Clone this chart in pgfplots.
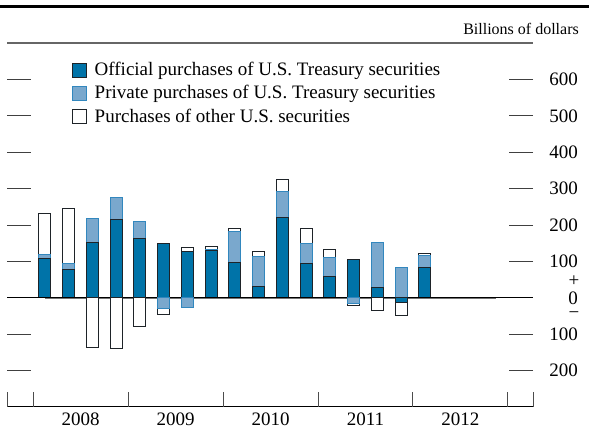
\documentclass[border=0pt]{standalone}
\usepackage{fontspec}
\setmainfont{Liberation Serif}
\usepackage{pgfplots}
\pgfplotsset{compat=1.18}
\definecolor{offblue}{RGB}{0,115,168}
\definecolor{privblue}{RGB}{122,168,205}
\definecolor{privedge}{RGB}{50,135,190}
\definecolor{darkedge}{RGB}{30,35,40}
\pgfplotsset{
  common/.style={
    scale only axis, width=526bp, height=364bp,
    at={(7bp,25bp)}, anchor=south west,
    xmin=-1.595, xmax=20.553, ymin=-300, ymax=700,
    ybar stacked, bar width=12bp,
    axis line style={draw=none},
  }
}
\begin{document}
\begin{tikzpicture}
\fontsize{19bp}{23bp}\selectfont
\path[use as bounding box] (0,0) rectangle (589bp,432bp);
\draw[line width=3bp] (0,425bp) -- (589bp,425bp);
\node[anchor=base east, font=\fontsize{16bp}{19bp}\selectfont, inner sep=0pt] at (579bp,397bp) {Billions of dollars};
\draw[black!60, line width=1.5bp] (7bp,389bp) -- (533bp,389bp);
\draw[black, line width=1bp] (7bp,25bp) -- (533bp,25bp);
\begin{axis}[common, clip=false,
  ytick={-200,-100,100,200,300,400,500,600},
  yticklabels={200,100,100,200,300,400,500,600},
  extra y ticks={0}, extra y tick labels={0},
  extra y tick style={major tick length=0pt},
  ytick pos=both, yticklabel pos=right,
  tick align=inside, major tick length=24bp,
  ytick style={black!75, line width=1bp},
  yticklabel style={anchor=east, inner sep=0pt, xshift=45bp},
  xtick={1.5,5.5,9.5,13.5,17.5}, xticklabels={2008,2009,2010,2011,2012},
  xtick style={draw=none},
  xticklabel style={anchor=base, inner sep=0pt, yshift=-19bp},
  /pgf/number format/assume math mode=true,
  legend cell align=left,
  legend style={at={(rel axis cs:0.1236,0.9533)}, anchor=north west,
    draw=none, fill=none, inner sep=0pt, row sep=3bp,
    font=\fontsize{19bp}{23bp}\selectfont},
  legend image code/.code={\draw[#1, line width=1bp] (0bp,-7bp) rectangle (14bp,7bp);
    \path[draw=none, fill=none] (0bp,0bp) rectangle (20bp,1bp);},
]
\draw[black, line width=0.8bp] (axis cs:-1.595,0) -- (axis cs:20.553,0);
\draw[black!55, line width=2bp] (axis cs:0,0) -- (axis cs:19,0);
\draw[black!70, line width=1bp] (axis cs:-1.595,-300) -- ++(0pt,15bp);
\draw[black!70, line width=1bp] (axis cs:-0.5,-300) -- ++(0pt,15bp);
\draw[black!70, line width=1bp] (axis cs:3.5,-300) -- ++(0pt,15bp);
\draw[black!70, line width=1bp] (axis cs:7.5,-300) -- ++(0pt,15bp);
\draw[black!70, line width=1bp] (axis cs:11.5,-300) -- ++(0pt,15bp);
\draw[black!70, line width=1bp] (axis cs:15.5,-300) -- ++(0pt,15bp);
\draw[black!70, line width=1bp] (axis cs:19.5,-300) -- ++(0pt,15bp);
\draw[black!70, line width=1bp] (axis cs:20.553,-300) -- ++(0pt,15bp);
\node[inner sep=0pt] at (axis cs:20.553,47) [xshift=41bp] {+};
\node[inner sep=0pt] at (axis cs:20.553,-47) [xshift=41bp] {−};
% positive parts
\addplot[fill=offblue, draw=darkedge, line width=1bp] coordinates {
(0,107) (1,77) (2,152) (3,214) (4,164) (5,149) (6,126) (7,130) (8,97)
(9,30) (10,220) (11,93) (12,58) (13,105) (14,29) (15,0) (16,83)};
\addplot[fill=privblue, draw=privedge, line width=1bp] coordinates {
(0,13) (1,18) (2,67) (3,62) (4,46) (5,0) (6,0) (7,2) (8,84)
(9,84) (10,73) (11,57) (12,54) (13,0) (14,122) (15,83) (16,34)};
\addplot[fill=white, draw=darkedge, line width=1bp] coordinates {
(0,111) (1,150) (2,0) (3,0) (4,0) (5,0) (6,11) (7,8) (8,9)
(9,14) (10,31) (11,41) (12,21) (13,0) (14,0) (15,0) (16,5)};
\legend{Official purchases of U.S. Treasury securities,
Private purchases of U.S. Treasury securities,
Purchases of other U.S. securities}
\end{axis}
\begin{axis}[common, hide axis]
% negative parts
\addplot[fill=offblue, draw=darkedge, line width=1bp] coordinates {
(0,0) (1,0) (2,0) (3,0) (4,0) (5,0) (6,0) (7,0) (8,0)
(9,0) (10,0) (11,0) (12,0) (13,0) (14,0) (15,-14) (16,0)};
\addplot[fill=privblue, draw=privedge, line width=1bp] coordinates {
(0,0) (1,0) (2,0) (3,0) (4,0) (5,-29) (6,-26) (7,0) (8,0)
(9,0) (10,0) (11,0) (12,0) (13,-16) (14,0) (15,0) (16,0)};
\addplot[fill=white, draw=darkedge, line width=1bp] coordinates {
(0,0) (1,0) (2,-137) (3,-139) (4,-78) (5,-16) (6,0) (7,0) (8,0)
(9,0) (10,0) (11,0) (12,0) (13,-6) (14,-34) (15,-36) (16,0)};
\end{axis}
\end{tikzpicture}
\end{document}
